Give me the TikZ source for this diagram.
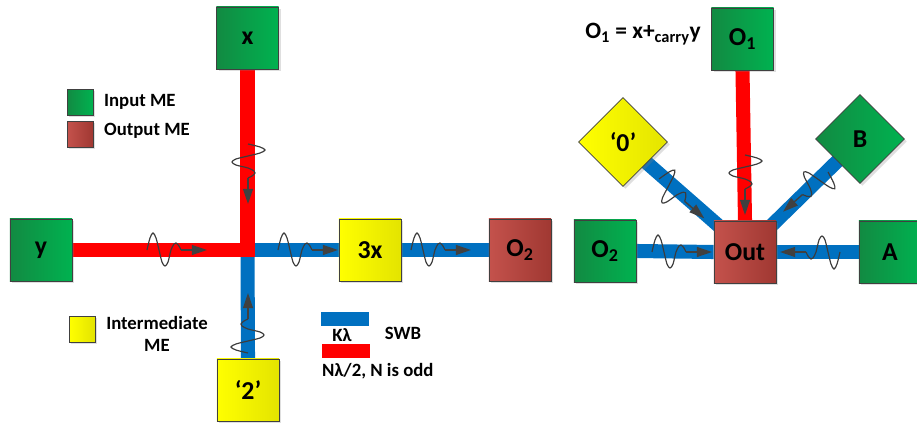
\documentclass[tikz,border=0pt]{standalone}
\usepackage{fontspec}
\setmainfont{Carlito}
\usetikzlibrary{arrows.meta,shapes.geometric,shadows,backgrounds,calc,positioning}
\definecolor{gdark}{RGB}{18,138,66}
\definecolor{glight}{RGB}{0,178,80}
\definecolor{blight}{RGB}{196,82,76}
\definecolor{bdark}{RGB}{160,56,50}
\definecolor{ylight}{RGB}{255,255,0}
\definecolor{ydark}{RGB}{228,228,0}
\definecolor{swblue}{RGB}{0,112,192}
\definecolor{swred}{RGB}{255,0,0}
\definecolor{edgec}{RGB}{64,64,64}
\definecolor{wavec}{RGB}{60,60,60}
\tikzset{
  swave/.pic={
    \draw[wavec, line width=1pt] plot[smooth, tension=0.55] coordinates {(0,0) (3,-12) (6,-17) (9,-12) (12,0) (15,12) (18,16) (21,12) (24,0) (27,-6) (29,-7) (32,-4) (34,0)};
    \draw[edgec, line width=1.2pt, -{Triangle[length=13pt,width=8.5pt]}] (34,0) -- (60,0);
  }
}
\begin{document}
\begin{tikzpicture}[x=0.03cm,y=-0.03cm]
		\tikzstyle{every node}=[font=\bfseries\fontsize{22}{26}\selectfont]
		\tikzstyle{me}=[draw=edgec, line width=0.6pt, minimum size=53pt, inner sep=0pt,
			drop shadow={shadow xshift=2pt, shadow yshift=-2pt, opacity=0.25, fill=gray}]
		\tikzstyle{inme}=[me, left color=gdark, right color=glight]
		\tikzstyle{outme}=[me, left color=blight, right color=bdark]
		\tikzstyle{midme}=[me, left color=ylight, right color=ydark]
		\tikzstyle{dia}=[me, shape=diamond, aspect=1, minimum size=76pt]
		\tikzstyle{key}=[draw=edgec, line width=0.6pt, minimum size=22pt, inner sep=0pt,
			drop shadow={shadow xshift=1.5pt, shadow yshift=-1.5pt, opacity=0.25, fill=gray}]
		\tikzstyle{keytext}=[font=\bfseries\fontsize{16}{19}\selectfont]
		\tikzstyle{bluebar}=[swblue, line width=12pt]
		\tikzstyle{redbar}=[swred, line width=12pt, line join=miter]
		\useasboundingbox (0,0) rectangle (917,424);
		% left gate
		\node [inme] (nx) at (247.5,38) {x};
		\node [inme] (ny) at (41,250) {y};
		\node [midme] (nthree) at (370,250) {3x};
		\node [midme] (ntwo) at (248,390) {‘2’};
		\node [outme] (noutL) at (520,250) {O\textsubscript{2}};
		\coordinate (jn) at (247.5,250);
		\begin{scope}[on background layer]
			\draw [bluebar] (jn) -- (nthree.west);
			\draw [bluebar] (jn) -- (ntwo.north);
			\draw [bluebar] (nthree.east) -- (noutL.west);
			\draw [redbar] (ny.east) -- (jn) -- (nx.south);
		\end{scope}
		\pic at (147,250) {swave};
		\pic [rotate=-90] at (248,144) {swave};
		\pic at (278,250) {swave};
		\pic at (411,250) {swave};
		\pic [rotate=90] at (248,353) {swave};
		% legend
		\node [key, left color=gdark, right color=glight] (kin) at (80,102) {};
		\node [key, left color=blight, right color=bdark] (kout) at (80,134) {};
		\node [key, left color=ylight, right color=ydark] (kmid) at (82,329) {};
		\node [keytext, anchor=west] (tin) at (100,102) {Input ME};
		\node [keytext, anchor=west] (tout) at (100,131) {Output ME};
		\node [keytext, align=center] (tmid) at (157,334) {Intermediate\\ME};
		\coordinate (kb1) at (321,319);
		\coordinate (kb2) at (369,319);
		\coordinate (kr1) at (322,351);
		\coordinate (kr2) at (370,351);
		\draw [bluebar] (kb1) -- (kb2);
		\draw [redbar] (kr1) -- (kr2);
		\node [keytext] (tk) at (342,335) {Kλ};
		\node [keytext] (tswb) at (403,333) {SWB};
		\node [keytext, anchor=west, inner sep=0pt] (tn) at (322,371) {Nλ/2, N is odd};
		% right gate
		\node [font=\bfseries\fontsize{20}{24}\selectfont] (title) at (643,34) {O\textsubscript{1} = x+\textsubscript{carry}y};
		\node [inme] (nOone) at (742.5,39) {O\textsubscript{1}};
		\node [outme] (nOut) at (745,252) {Out};
		\node [inme] (nOtwo) at (605,251) {O\textsubscript{2}};
		\node [inme] (nA) at (890,252) {A};
		\node [dia, left color=ylight, right color=ydark] (nzero) at (623,142) {‘0’};
		\node [dia, left color=gdark, right color=glight] (nB) at (860,139) {B};
		\begin{scope}[on background layer]
			\draw [redbar] (nOone.south) -- (nOut.north);
			\draw [bluebar] (nOtwo.east) -- (nOut.west);
			\draw [bluebar] (nA.west) -- (nOut.east);
			\draw [bluebar] (nzero.center) -- ($(nOut.north west)+(6,6)$);
			\draw [bluebar] (nB.center) -- ($(nOut.north east)+(-6,6)$);
		\end{scope}
		\pic [rotate=-90] at (745,155) {swave};
		\pic at (652,252) {swave};
		\pic [rotate=180] at (840,252) {swave};
		\pic [rotate=-41] at (659,179) {swave};
		\pic [rotate=-138.5] at (828,172) {swave};
	\end{tikzpicture}
\end{document}
